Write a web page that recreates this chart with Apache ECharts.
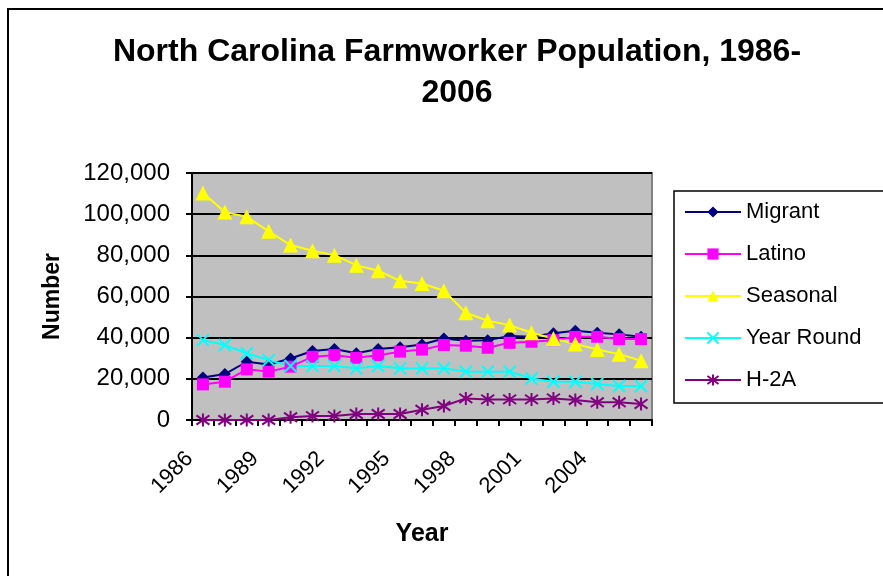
<!DOCTYPE html>
<html><head><meta charset="utf-8">
<script src="https://cdn.jsdelivr.net/npm/echarts@6/dist/echarts.min.js"></script>
<style>html,body{margin:0;padding:0;background:#fff}#c{width:883px;height:576px}</style>
</head><body><div id="c"></div>
<script>
const years = ['1986','1987','1988','1989','1990','1991','1992','1993','1994','1995','1996','1997','1998','1999','2000','2001','2002','2003','2004','2005','2006'];
const migrant = [20700,22300,28300,27000,29900,33500,34500,32400,34500,35300,36700,39600,38500,38800,40800,40400,42100,43400,42400,41600,40400];
const latino = [17300,18600,24600,23500,25900,30700,31500,30200,31500,33200,34200,36400,36100,35100,37500,38000,38800,40400,40400,39300,39300];
const seasonal = [110300,101000,98700,91700,85000,82200,80100,75200,72500,67600,66300,62800,52100,48200,46100,42400,39600,36900,34300,32000,28800];
const yearRound = [38800,36400,32400,29100,26200,26200,26200,25100,26200,25100,25100,25100,23500,23500,23500,20200,18600,18600,17500,16500,16500];
const h2a = [0,0,0,0,1300,1900,2000,2900,2900,2900,5000,6800,10500,10000,10000,10000,10500,9700,8600,8600,7800];
const yTicks = {min:0, max:120000, interval:20000};

const FF = '"Liberation Sans", Arial, sans-serif';
const chart = echarts.init(document.getElementById('c'));
const X = 'path://M0,0L10,10M10,0L0,10';
const AST = 'path://M0,0L10,10M10,0L0,10M5,-2L5,12';
function ser(name, data, color, symbol, size, stroke) {
  return {
    name, type:'line', data, symbol, symbolSize:size, showAllSymbol:true,
    lineStyle:{color, width:2},
    itemStyle: stroke ? {color:'rgba(0,0,0,0)', borderColor:color, borderWidth:2} : {color, borderColor:color, borderWidth:0},
    emphasis:{disabled:true}, animation:false
  };
}
chart.setOption({
  backgroundColor:'#fff',
  animation:false,
  title:{
    text:'North Carolina Farmworker Population, 1986-\n2006',
    left:452, textAlign:'center', top:27,
    textStyle:{fontFamily:FF, fontSize:32, fontWeight:'bold', color:'#000', lineHeight:41}
  },
  grid:{left:192, right:231, top:173, bottom:156, show:true, backgroundColor:'#c0c0c0', borderColor:'#808080', borderWidth:2},
  legend:{
    orient:'vertical', left:674, top:191,
    padding:[10,60,12,10],
    borderColor:'#000', borderWidth:1.5, backgroundColor:'#fff',
    itemWidth:56, itemHeight:14, itemGap:20,
    textStyle:{fontFamily:FF, fontSize:22, color:'#000'},
    data:['Migrant','Latino','Seasonal','Year Round','H-2A']
  },
  xAxis:{
    type:'category', data:years, boundaryGap:true,
    name:'Year', nameLocation:'middle', nameGap:102,
    nameTextStyle:{fontFamily:FF, fontSize:25, fontWeight:'bold', color:'#000'},
    axisLine:{lineStyle:{color:'#000', width:2}},
    axisTick:{show:true, interval:0, length:6, lineStyle:{color:'#000', width:2}},
    axisLabel:{interval:2, rotate:45, fontFamily:FF, fontSize:22, color:'#000', margin:22, padding:[0,19,0,0]},
    splitLine:{show:false}
  },
  yAxis:{
    type:'value', min:yTicks.min, max:yTicks.max, interval:yTicks.interval,
    name:'Number', nameLocation:'middle', nameGap:128, nameRotate:90,
    nameTextStyle:{fontFamily:FF, fontSize:23, fontWeight:'bold', color:'#000'},
    axisLine:{show:true, lineStyle:{color:'#000', width:2}},
    axisTick:{show:true, length:6, lineStyle:{color:'#000', width:2}},
    axisLabel:{fontFamily:FF, fontSize:24, color:'#000', margin:22,
      formatter:v=>v.toLocaleString('en-US')},
    splitLine:{show:true, lineStyle:{color:'#000', width:2}}
  },
  graphic:[{type:'rect', shape:{x:8, y:9, width:900, height:600}, style:{fill:'none', stroke:'#000', lineWidth:2}, z:-1, silent:true}],
  series:[
    ser('Migrant', migrant, '#000080', 'diamond', 12, false),
    ser('Latino', latino, '#ff00ff', 'rect', 12, false),
    ser('Seasonal', seasonal, '#ffff00', 'triangle', 15, false),
    ser('Year Round', yearRound, '#00ffff', X, 12, true),
    ser('H-2A', h2a, '#800080', AST, 13, true)
  ]
});
</script></body></html>
